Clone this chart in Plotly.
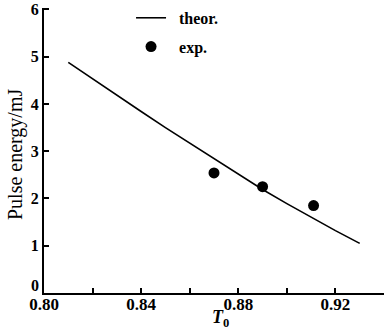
import plotly.graph_objects as go

# theoretical curve
theor_T0 = [0.81, 0.82, 0.83, 0.84, 0.85, 0.86, 0.87, 0.88, 0.89, 0.90, 0.91, 0.92, 0.93]
theor_E = [4.88, 4.53, 4.18, 3.84, 3.50, 3.17, 2.84, 2.51, 2.19, 1.89, 1.60, 1.32, 1.05]

# experimental points
exp_T0 = [0.870, 0.890, 0.911]
exp_E = [2.54, 2.25, 1.85]

x_tickvals = [0.80, 0.84, 0.88, 0.92]
x_ticktext = ["0.80", "0.84", "0.88", "0.92"]
x_minor = [0.82, 0.86, 0.90]
y_tickvals = [0, 1, 2, 3, 4, 5, 6]
y_ticktext = ["", "1", "2", "3", "4", "5", "6"]
y_origin_label = "0"

font_family = "Liberation Serif"
nbsp = "\u00a0\u00a0"

fig = go.Figure()
fig.add_trace(go.Scatter(x=theor_T0, y=theor_E, mode="lines", name=nbsp + "theor.",
                         legendgroup="a",
                         line=dict(color="black", width=1.6)))
fig.add_trace(go.Scatter(x=exp_T0, y=exp_E, mode="markers", name=nbsp + "exp.",
                         legendgroup="b",
                         marker=dict(color="black", size=11)))

fig.update_layout(
    width=384, height=336,
    margin=dict(l=44, r=0, t=8, b=43, autoexpand=False),
    paper_bgcolor="white", plot_bgcolor="white",
    font=dict(family=font_family, color="black", size=14),
    showlegend=True,
    legend=dict(x=0.256, y=1.025, xanchor="left", yanchor="top",
                bgcolor="rgba(0,0,0,0)",
                font=dict(size=16, family=font_family, weight="bold"),
                itemwidth=30, tracegroupgap=5),
    xaxis=dict(range=[0.80, 0.94], tickvals=x_tickvals, ticktext=x_ticktext,
               ticks="inside", ticklen=5, tickwidth=1.5, tickcolor="black",
               showline=True, linecolor="black", linewidth=2,
               showgrid=False, zeroline=False, automargin=False,
               ticklabelstandoff=-5,
               tickfont=dict(size=17, family=font_family, weight="bold"),
               minor=dict(tickvals=x_minor, ticks="inside", ticklen=5, tickwidth=1.5, tickcolor="black")),
    yaxis=dict(range=[0, 6.03], tickvals=y_tickvals, ticktext=y_ticktext,
               ticks="inside", ticklen=5, tickwidth=1.5, tickcolor="black",
               showline=True, linecolor="black", linewidth=2,
               showgrid=False, zeroline=False, automargin=False,
               tickfont=dict(size=16, family=font_family, weight="bold")),
    annotations=[
        dict(text=y_origin_label, xref="paper", yref="y", x=0, y=0,
             xanchor="right", yanchor="middle", xshift=-3, yshift=8, showarrow=False,
             font=dict(size=16, family=font_family, weight="bold")),
        dict(text="<i>T</i><sub>0</sub>", xref="paper", yref="paper", x=0.52, y=-0.09,
             xanchor="center", yanchor="middle", showarrow=False,
             font=dict(size=18, family=font_family, weight="bold")),
        dict(text="Pulse energy/mJ", xref="paper", yref="paper", x=-0.082, y=0.488,
             xanchor="center", yanchor="middle", showarrow=False, textangle=-90,
             font=dict(size=20, family=font_family)),
    ],
)

fig.write_html("out.html", config={"displayModeBar": False},
               post_script="document.body.style.margin='0';")
